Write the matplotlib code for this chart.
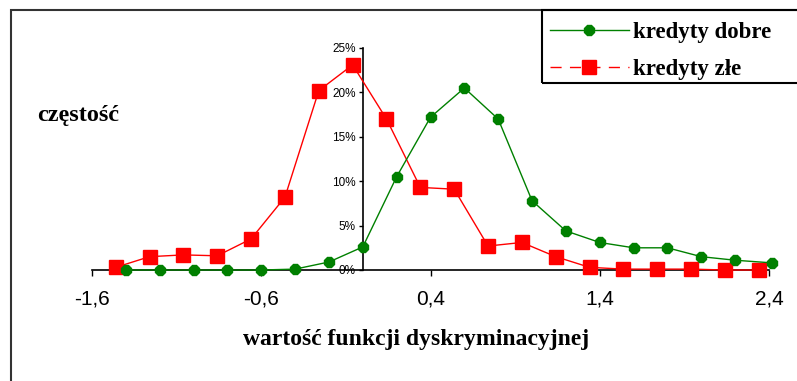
import matplotlib
matplotlib.use('Agg')
import matplotlib.pyplot as plt
from matplotlib.lines import Line2D
from matplotlib.patches import Rectangle

# dane
x_dobre = [-1.4, -1.2, -1.0, -0.8, -0.6, -0.4, -0.2, 0.0, 0.2, 0.4,
           0.6, 0.8, 1.0, 1.2, 1.4, 1.6, 1.8, 2.0, 2.2, 2.42]
y_dobre = [0.0, 0.0, 0.0, 0.0, 0.0, 0.1, 0.9, 2.6, 10.5, 17.2,
           20.5, 17.0, 7.8, 4.4, 3.1, 2.5, 2.5, 1.5, 1.1, 0.8]

x_zle = [-1.46, -1.26, -1.06, -0.86, -0.66, -0.46, -0.26, -0.06, 0.14, 0.34,
         0.54, 0.74, 0.94, 1.14, 1.34, 1.54, 1.74, 1.94, 2.14, 2.34]
y_zle = [0.3, 1.5, 1.7, 1.6, 3.5, 8.2, 20.2, 23.1, 17.0, 9.3,
         9.1, 2.7, 3.1, 1.5, 0.3, 0.1, 0.1, 0.1, 0.0, 0.0]

x_ticks = [-1.6, -0.6, 0.4, 1.4, 2.4]
y_ticks = [0, 5, 10, 15, 20, 25]

W, H = 797, 381
fig = plt.figure(figsize=(W / 100, H / 100), dpi=100)
ax = fig.add_axes([92 / W, 1 - 270 / H, (769 - 92) / W, (270 - 48) / H])

ax.plot(x_dobre, y_dobre, color='#008000', lw=1.0, marker='8', ms=8,
        mfc='#008000', mec='#008000', clip_on=False, zorder=4)
ax.plot(x_zle, y_zle, color='#ff0000', lw=1.0, marker='s', ms=10,
        mfc='#ff0000', mec='#ff0000', clip_on=False, zorder=3)

ax.set_xlim(-1.6, 2.4)
ax.set_ylim(0, 25)
ax.spines['top'].set_visible(False)
ax.spines['right'].set_visible(False)
ax.spines['left'].set_position(('data', 0))
ax.spines['left'].set_linewidth(1.2)
ax.spines['bottom'].set_linewidth(1.2)

ax.set_xticks(x_ticks)
ax.set_xticklabels([f'{v:.1f}'.replace('.', ',') for v in x_ticks])
ax.set_yticks(y_ticks)
ax.set_yticklabels([f'{v}%' for v in y_ticks])
ax.tick_params(axis='x', direction='out', length=4, width=1, pad=10,
               labelsize=15)
ax.tick_params(axis='y', direction='out', length=3, width=1, pad=2,
               labelsize=8.5)
for lab in ax.get_xticklabels() + ax.get_yticklabels():
    lab.set_family('Liberation Sans')

serif = 'Liberation Serif'
fig.text(37 / W, 1 - 115 / H, 'częstość', family=serif, weight='bold',
         fontsize=17.5, ha='left', va='center')
fig.text(416 / W, 1 - 340 / H, 'wartość funkcji dyskryminacyjnej',
         family=serif, weight='bold', fontsize=17, ha='center', va='center')

# ramka wykresu
fig.patches.append(Rectangle((11 / W, -0.1), 1.2, 1 - 10 / H + 0.1,
                             transform=fig.transFigure, fill=False,
                             ec='#333333', lw=1.5))
# ramka legendy
fig.patches.append(Rectangle((542 / W, 1 - 83 / H), 0.5, (83 - 10) / H,
                             transform=fig.transFigure, fill=False,
                             ec='black', lw=1.5, zorder=5))

h_dobre = Line2D([], [], color='#008000', lw=1.0, marker='8', ms=8,
                 mfc='#008000', mec='#008000')
h_zle = Line2D([], [], color='#ff0000', lw=1.0, ls=(0, (8, 6)), marker='s',
               ms=10, mfc='#ff0000', mec='#ff0000')
fig.legend([h_dobre, h_zle], ['kredyty dobre', 'kredyty złe'],
           loc='upper left', bbox_to_anchor=(543 / W, 1 - 15 / H),
           borderaxespad=0, frameon=False, handlelength=3.45,
           handletextpad=0.18, labelspacing=0.68, borderpad=0.3,
           prop={'family': serif, 'weight': 'bold', 'size': 16.5})

fig.savefig('out.png', dpi=100)
